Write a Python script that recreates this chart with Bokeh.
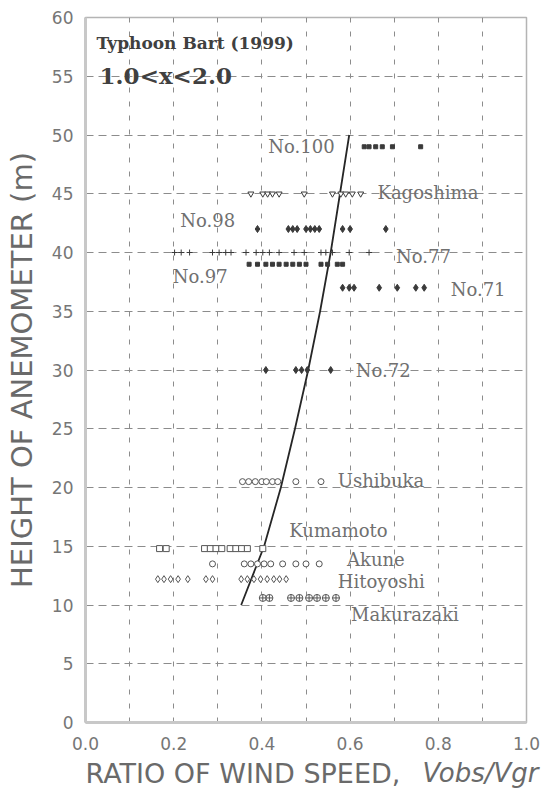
from bokeh.plotting import figure
from bokeh.layouts import column
from bokeh.models import FixedTicker, NumeralTickFormatter, Label, Range1d
from bokeh.embed import file_html
from bokeh.resources import INLINE

# ---------------- data ----------------
# observation heights (m) of each station / tower level
no100_h = 49.0
kagoshima_h = 45.0
no98_h = 42.0
no77_h = 40.0
no97_h = 39.0
no71_h = 37.0
no72_h = 30.0
ushibuka_h = 20.5
kumamoto_h = 14.8
akune_h = 13.5
hitoyoshi_h = 12.2
makurazaki_h = 10.6

# wind-speed ratios Vobs/Vgr
no100_x = [0.632, 0.643, 0.658, 0.673, 0.696, 0.760]
kagoshima_x = [0.375, 0.402, 0.413, 0.424, 0.439, 0.496, 0.560, 0.579, 0.590, 0.605, 0.624]
no98_x = [0.390, 0.460, 0.470, 0.480, 0.500, 0.510, 0.520, 0.530, 0.583, 0.600, 0.681]
no77_x = [0.202, 0.217, 0.236, 0.288, 0.303, 0.318, 0.330, 0.364, 0.387, 0.402, 0.417,
          0.439, 0.473, 0.496, 0.534, 0.545, 0.560, 0.598, 0.643]
no97_x = [0.371, 0.390, 0.409, 0.424, 0.439, 0.455, 0.470, 0.485, 0.500, 0.534, 0.549,
          0.571, 0.583]
no71_x = [0.583, 0.598, 0.609, 0.666, 0.707, 0.749, 0.768]
no72_x = [0.409, 0.477, 0.490, 0.503, 0.556]
ushibuka_x = [0.356, 0.370, 0.385, 0.400, 0.410, 0.424, 0.436, 0.477, 0.534]
kumamoto_x = [0.168, 0.183, 0.270, 0.283, 0.296, 0.309, 0.328, 0.341, 0.354, 0.367, 0.402]
akune_x = [0.288, 0.360, 0.375, 0.390, 0.405, 0.420, 0.447, 0.477, 0.500, 0.530]
hitoyoshi_x = [0.164, 0.178, 0.193, 0.210, 0.232, 0.273, 0.288, 0.353, 0.367, 0.382,
               0.397, 0.412, 0.427, 0.440, 0.455]
makurazaki_x = [0.402, 0.417, 0.466, 0.485, 0.507, 0.525, 0.545, 0.568]

# fitted profile curve
curve_h = [10, 15, 20, 25, 30, 35, 40, 45, 50]
curve_r = [0.353, 0.405, 0.443, 0.475, 0.505, 0.532, 0.556, 0.577, 0.598]

# axis ticks
x_ticks = [0.0, 0.2, 0.4, 0.6, 0.8, 1.0]
y_ticks = [0, 5, 10, 15, 20, 25, 30, 35, 40, 45, 50, 55, 60]
x_grid = [0.1, 0.2, 0.3, 0.4, 0.5, 0.6, 0.7, 0.8, 0.9]
y_grid = [5, 10, 15, 20, 25, 30, 35, 40, 45, 50, 55]

LEFT = 85

# ---------------- main figure ----------------
p = figure(output_backend="svg", toolbar_location=None,
           x_range=Range1d(0, 1), y_range=Range1d(0, 60))
p.frame_width = 441
p.frame_height = 705
p.min_border_left = LEFT
p.min_border_right = 16
p.min_border_top = 17
p.min_border_bottom = 34
p.background_fill_color = "white"
p.border_fill_color = "white"
p.outline_line_color = "#b4b4b4"
p.outline_line_width = 1.5

for ax in (p.xaxis[0], p.yaxis[0]):
    ax.axis_line_color = "#c8c8c8"
    ax.axis_line_width = 3
    ax.major_tick_line_color = None
    ax.minor_tick_line_color = None
    ax.major_label_text_font = "DejaVu Sans"
    ax.major_label_text_font_size = "17px"
    ax.major_label_text_color = "#767676"

p.xaxis.ticker = FixedTicker(ticks=x_ticks)
p.xaxis.formatter = NumeralTickFormatter(format="0.0")
p.xaxis.major_label_standoff = 8
p.yaxis.ticker = FixedTicker(ticks=y_ticks)
p.yaxis.major_label_standoff = 6
p.yaxis.axis_label = "HEIGHT OF ANEMOMETER (m)"
p.yaxis.axis_label_text_font = "DejaVu Sans"
p.yaxis.axis_label_text_font_size = "29px"
p.yaxis.axis_label_text_font_style = "normal"
p.yaxis.axis_label_text_color = "#6a6a6a"
p.yaxis.axis_label_standoff = 10

p.xgrid.ticker = FixedTicker(ticks=x_grid)
p.ygrid.ticker = FixedTicker(ticks=y_grid)
p.xgrid.grid_line_color = "#8c8c8c"
p.xgrid.grid_line_dash = "5 9"
p.xgrid.grid_line_width = 1
p.ygrid.grid_line_color = "#8c8c8c"
p.ygrid.grid_line_dash = "8 5"
p.ygrid.grid_line_width = 1

mk = "#3a3a3a"
op = "#555555"
# profile curve
p.line(curve_r, curve_h, line_color="#262626", line_width=1.8)

# tower / station observations
p.scatter(no100_x, [no100_h] * len(no100_x), marker="square", size=4, color=mk)
p.scatter(kagoshima_x, [kagoshima_h] * len(kagoshima_x), marker="inverted_triangle", size=6,
          line_color=mk, fill_color="white")
p.scatter(no98_x, [no98_h] * len(no98_x), marker="diamond", size=7, color=mk)
p.scatter(no77_x, [no77_h] * len(no77_x), marker="cross", size=6, line_color=mk, line_width=1)
p.scatter(no97_x, [no97_h] * len(no97_x), marker="square", size=4, color=mk)
p.scatter(no71_x, [no71_h] * len(no71_x), marker="diamond", size=7, color=mk)
p.scatter(no72_x, [no72_h] * len(no72_x), marker="diamond", size=7, color=mk)
p.scatter(ushibuka_x, [ushibuka_h] * len(ushibuka_x), marker="circle", size=6,
          line_color=op, fill_color="white")
p.scatter(kumamoto_x, [kumamoto_h] * len(kumamoto_x), marker="square", size=6,
          line_color=op, fill_color="white")
p.scatter(akune_x, [akune_h] * len(akune_x), marker="circle", size=6,
          line_color=op, fill_color="white")
p.scatter(hitoyoshi_x, [hitoyoshi_h] * len(hitoyoshi_x), marker="diamond", size=7,
          line_color=op, fill_color="white")
p.scatter(makurazaki_x, [makurazaki_h] * len(makurazaki_x), marker="circle_cross", size=7,
          line_color=op, fill_color="white")


def put(fig, text, x, y, align="left", size="18px", color="#707070", style="normal",
        font="DejaVu Serif"):
    fig.add_layout(Label(x=x, y=y, text=text, text_align=align, text_baseline="middle",
                         text_font=font, text_font_size=size, text_color=color,
                         text_font_style=style))


# station labels
put(p, "No.100", 0.565, 49.0, align="right")
put(p, "Kagoshima", 0.662, 45.1)
put(p, "No.98", 0.215, 42.7)
put(p, "No.77", 0.704, 39.7)
put(p, "No.97", 0.198, 38.0)
put(p, "No.71", 0.828, 36.85)
put(p, "No.72", 0.613, 30.0)
put(p, "Ushibuka", 0.572, 20.6)
put(p, "Kumamoto", 0.462, 16.3)
put(p, "Akune", 0.593, 13.9)
put(p, "Hitoyoshi", 0.572, 12.0)
put(p, "Makurazaki", 0.602, 9.2)

put(p, "Typhoon Bart (1999)", 0.025, 57.8, size="17px", color="#404040", style="bold")
put(p, "1.0<x<2.0", 0.032, 55.05, size="23px", color="#404040", style="bold")

# ---------------- strip holding the x-axis title ----------------
# its frame starts where the main frame starts (column aligns frames);
# the strip's x scale is in pixels measured from the main frame's left edge
STRIP_W = 456
q = figure(output_backend="svg", toolbar_location=None,
           x_range=Range1d(0, STRIP_W), y_range=Range1d(0, 32),
           x_axis_location=None, y_axis_location=None)
q.frame_width = STRIP_W
q.frame_height = 32
q.min_border_left = LEFT
q.min_border_right = 0
q.min_border_top = 0
q.min_border_bottom = 0
q.outline_line_color = None
q.xgrid.visible = False
q.ygrid.visible = False
q.background_fill_color = "white"
q.border_fill_color = "white"
put(q, "RATIO OF WIND SPEED,", 0, 15.5, align="left", size="27px", color="#6a6a6a",
    font="DejaVu Sans")
put(q, "Vobs/Vgr", 453, 15.5, align="right", size="26px", color="#6a6a6a",
    style="italic", font="DejaVu Sans")

layout = column(p, q, spacing=0)
open("out.html", "w").write(file_html(layout, INLINE))
